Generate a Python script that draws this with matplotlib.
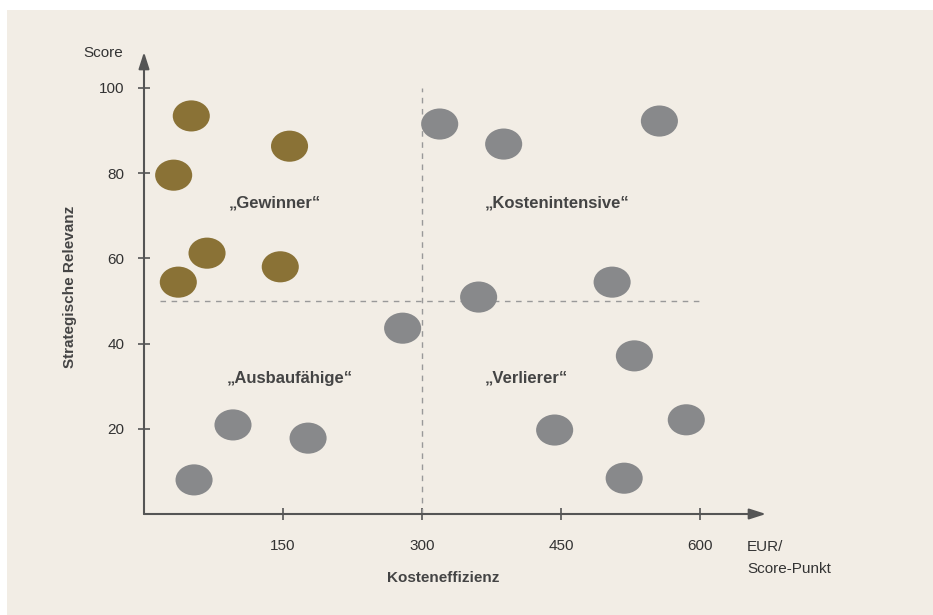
import matplotlib.pyplot as plt
from matplotlib.patches import Ellipse, Rectangle

plt.rcParams['font.family'] = ['Liberation Sans', 'DejaVu Sans']

# Kosteneffizienz (EUR je Score-Punkt) und strategische Relevanz (Score)
gewinner_x = [51, 157, 32, 68, 147, 37]
gewinner_y = [93.4, 86.3, 79.5, 61.2, 58.0, 54.4]

rest_x = [319, 388, 556, 505, 361, 279, 529, 443, 585, 518, 96, 177, 54]
rest_y = [91.5, 86.8, 92.2, 54.4, 50.9, 43.6, 37.1, 19.7, 22.1, 8.4, 20.9, 17.8, 8.0]

x_ticks = [150, 300, 450, 600]
y_ticks = [20, 40, 60, 80, 100]

quadrants = [
    ("\u201eGewinner\u201c", 141, 73.0),
    ("\u201eKostenintensive\u201c", 446, 73.0),
    ("\u201eAusbauf\u00e4hige\u201c", 157, 31.9),
    ("\u201eVerlierer\u201c", 412, 31.9),
]

x_split = 300
y_split = 50

bg = '#f2ede5'
gold = '#8a7236'
grey = '#88898b'
axis_col = '#555555'
text_col = '#333333'

W, H = 933, 615
fig = plt.figure(figsize=(W / 100, H / 100), dpi=100, facecolor='white')
fig.patches.append(Rectangle((7 / W, 0), 1 - 7 / W, 1 - 10 / H,
                             transform=fig.transFigure, facecolor=bg,
                             edgecolor='none', zorder=-1))

x0, x1 = 144, 766
y0, y1 = 514, 52
ax = fig.add_axes([x0 / W, 1 - y0 / H, (x1 - x0) / W, (y0 - y1) / H])
ax.set_facecolor('none')
xmax, ymax = 671, 108.4
ax.set_xlim(0, xmax)
ax.set_ylim(0, ymax)
for s in ax.spines.values():
    s.set_visible(False)

# axes with arrow heads
arrow = dict(arrowstyle='-|>,head_length=1.0,head_width=0.32', color=axis_col, lw=1.5,
             shrinkA=0, shrinkB=0)
ax.annotate('', xy=(1, 0), xytext=(0, 0), xycoords='axes fraction', arrowprops=arrow)
ax.annotate('', xy=(0, 1), xytext=(0, 0), xycoords='axes fraction', arrowprops=arrow)

ax.set_xticks(x_ticks)
ax.set_yticks(y_ticks)
ax.tick_params(direction='inout', length=8, width=1.2, color=axis_col,
               labelsize=11, labelcolor=text_col)
ax.tick_params(axis='x', pad=14)
ax.tick_params(axis='y', pad=10)

# quadrant separators
ax.plot([x_split, x_split], [0, 100], ls=(0, (4, 4)), color='#999999', lw=1)
ax.plot([17, 600], [y_split, y_split], ls=(0, (4, 4)), color='#999999', lw=1)

ew, eh = 40, 7.3
for x, y in zip(rest_x, rest_y):
    ax.add_patch(Ellipse((x, y), ew, eh, facecolor=grey, edgecolor='none', zorder=3))
for x, y in zip(gewinner_x, gewinner_y):
    ax.add_patch(Ellipse((x, y), ew, eh, facecolor=gold, edgecolor='none', zorder=3))

for label, x, y in quadrants:
    ax.text(x, y, label, ha='center', va='center', fontsize=12,
            fontweight='bold', color='#444444')

fig.text(123 / W, 1 - 53 / H, 'Score', ha='right', va='center', fontsize=11, color=text_col)
fig.text(747 / W, 1 - 547 / H, 'EUR/', ha='left', va='center', fontsize=11, color=text_col)
fig.text(747 / W, 1 - 569 / H, 'Score-Punkt', ha='left', va='center', fontsize=11,
         color=text_col)
fig.text(443 / W, 1 - 578 / H, 'Kosteneffizienz', ha='center', va='center',
         fontsize=11, fontweight='bold', color='#444444')
fig.text(70 / W, 1 - 287 / H, 'Strategische Relevanz', ha='center', va='center',
         rotation=90, fontsize=11, fontweight='bold', color='#444444')

fig.savefig('out.png', dpi=100, facecolor='white')
